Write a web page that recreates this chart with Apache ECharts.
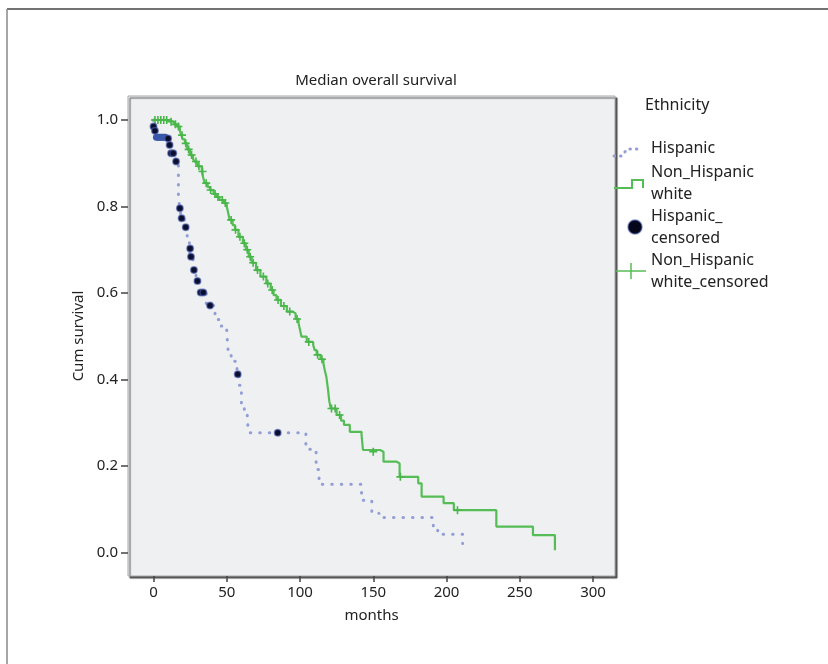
<!DOCTYPE html>
<html>
<head>
<meta charset="utf-8">
<script src="https://cdn.jsdelivr.net/npm/echarts@6/dist/echarts.min.js"></script>
<style>
  html, body { margin: 0; padding: 0; background: #fff; }
  #chart { width: 828px; height: 664px; }
</style>
</head>
<body>
<div id="chart"></div>
<script>
// tick labels
const xTicks = [0, 50, 100, 150, 200, 250, 300];
const yTicks = [0, 0.2, 0.4, 0.6, 0.8, 1.0];

// Kaplan-Meier steps: [months, survival after the step]
const hispanicSteps = [
  [0, 1.0], [0.5, 0.985], [1, 0.975], [2, 0.96], [11, 0.942], [12, 0.923],
  [15, 0.904], [17, 0.82], [18, 0.796], [19, 0.773], [21, 0.752], [23, 0.72],
  [24.5, 0.703], [25.2, 0.684], [27, 0.653], [29, 0.628], [31, 0.601],
  [36, 0.571], [42, 0.539], [46, 0.524], [50, 0.507], [51, 0.464],
  [53, 0.442], [57, 0.412], [58.5, 0.387], [60, 0.345], [62, 0.322],
  [64, 0.306], [65, 0.277], [104, 0.239], [111, 0.192], [113, 0.158],
  [142, 0.121], [149, 0.091], [154, 0.081], [191, 0.054], [194, 0.042],
  [211, 0.021]
];

const nhwSteps = [
  [0, 1.0], [11, 0.996], [14, 0.99], [16, 0.985], [18, 0.975], [19, 0.965],
  [20, 0.955], [21.5, 0.946], [23, 0.932], [25, 0.919], [27, 0.91],
  [28, 0.904], [30, 0.893], [33, 0.881], [34, 0.866], [35, 0.854],
  [37, 0.845], [38.6, 0.838], [41, 0.829], [43, 0.822], [45, 0.815],
  [48, 0.808], [50, 0.80], [51, 0.785], [52, 0.769], [54, 0.757],
  [55.6, 0.746], [58, 0.73], [61, 0.715], [63, 0.70], [65, 0.684],
  [67, 0.67], [70, 0.653], [73, 0.638], [77, 0.622], [80, 0.607],
  [82, 0.595], [84, 0.584], [87, 0.57], [91, 0.557], [95, 0.553],
  [97, 0.54], [99, 0.53], [100, 0.515], [101, 0.499], [104.6, 0.487],
  [109, 0.48], [110, 0.468], [111.4, 0.457], [114, 0.447], [116, 0.437],
  [117, 0.42], [118, 0.406], [119, 0.38], [120, 0.35], [121, 0.333],
  [125, 0.318], [128, 0.305], [130, 0.295], [134, 0.279], [142, 0.272],
  [143, 0.237], [154.6, 0.233], [157, 0.21], [166, 0.206], [168, 0.175],
  [180.7, 0.16], [183, 0.129], [198, 0.114], [205, 0.098], [234, 0.06],
  [259, 0.04], [274, 0.005]
];

// censored observations
const hispanicCensored = [
  [0, 0.985], [1, 0.975], [10, 0.957], [11, 0.942], [12, 0.923],
  [13.5, 0.923], [15.4, 0.904], [18, 0.796], [19.2, 0.773], [22, 0.752],
  [25, 0.703], [25.6, 0.684], [27.6, 0.653], [30, 0.628], [32.2, 0.601],
  [34, 0.601], [38.6, 0.571], [57.5, 0.412], [84.8, 0.277]
];
const hispanicCensoredBlock = [
  [2, 0.96], [3, 0.96], [4, 0.96], [5, 0.96], [6, 0.96], [7, 0.96], [8, 0.96]
];

const nhwCensored = [
  [1, 1.0], [3, 1.0], [5, 1.0], [7, 1.0], [9, 1.0], [12, 0.996], [15, 0.99],
  [17, 0.985], [19.5, 0.965], [22, 0.946], [24, 0.932], [26, 0.919],
  [29, 0.904], [31, 0.893], [33.5, 0.881], [36, 0.854], [39, 0.838],
  [42, 0.829], [44, 0.822], [47, 0.815], [49, 0.808], [53, 0.769],
  [56, 0.746], [59, 0.73], [62, 0.715], [64, 0.70], [66, 0.684],
  [68, 0.67], [71, 0.653], [75, 0.638], [78, 0.622], [81, 0.607],
  [85, 0.584], [89, 0.57], [93, 0.557], [98, 0.54], [106, 0.487],
  [112, 0.457], [115, 0.447], [121.5, 0.333], [124, 0.333], [127, 0.318],
  [150, 0.233], [168.5, 0.175], [207.5, 0.098]
];

const chart = echarts.init(document.getElementById('chart'));
const font = '"Noto Sans", "Open Sans", sans-serif';
const plusPath = 'path://M4,0H6V4H10V6H6V10H4V6H0V4H4Z';

chart.setOption({
  animation: false,
  backgroundColor: '#fff',
  textStyle: { fontFamily: font },
  title: {
    text: 'Median overall survival',
    left: 371, top: 68, textAlign: 'center',
    textStyle: { fontSize: 15, fontWeight: 'normal', color: '#222', fontFamily: font }
  },
  grid: {
    left: 128, right: 213, top: 96, bottom: 88,
    show: true, backgroundColor: '#eef0f2',
    borderColor: '#a8a8a8', borderWidth: 1,
    shadowColor: '#555', shadowOffsetX: 2, shadowOffsetY: 2, shadowBlur: 1
  },
  xAxis: {
    type: 'value', min: -17.4, max: 315,
    name: 'months', nameLocation: 'middle', nameGap: 32,
    nameTextStyle: { fontSize: 15, color: '#222' },
    axisLine: { show: false, onZero: false },
    axisTick: { show: true, length: 6, lineStyle: { color: '#444', width: 1.5 }, customValues: xTicks },
    axisLabel: { fontSize: 15, color: '#222', margin: 9, customValues: xTicks },
    splitLine: { show: false }
  },
  yAxis: {
    type: 'value', min: -0.0543, max: 1.0555,
    name: 'Cum survival', nameLocation: 'middle', nameGap: 42,
    nameTextStyle: { fontSize: 15, color: '#222' },
    axisLine: { show: false, onZero: false },
    axisTick: { show: true, length: 7, lineStyle: { color: '#444', width: 1.5 }, customValues: yTicks },
    axisLabel: { fontSize: 15, color: '#222', margin: 10, customValues: yTicks,
      formatter: v => v.toFixed(1) },
    splitLine: { show: false }
  },
  series: [
    {
      name: 'Hispanic', type: 'line', step: 'end', showSymbol: false,
      data: hispanicSteps,
      lineStyle: { color: '#939dd6', width: 3, type: [0.5, 9], cap: 'round' },
      z: 2
    },
    {
      name: 'Non_Hispanic white', type: 'line', step: 'end', showSymbol: false,
      data: nhwSteps,
      lineStyle: { color: '#56bd56', width: 2.2 },
      z: 2
    },
    {
      name: 'Hispanic_censored_block', type: 'scatter', symbol: 'circle', symbolSize: 7,
      data: hispanicCensoredBlock,
      itemStyle: { color: '#3a58aa', opacity: 1 },
      z: 3
    },
    {
      name: 'Hispanic_censored', type: 'scatter', symbol: 'circle', symbolSize: 6.5,
      data: hispanicCensored,
      itemStyle: { color: '#0b0e2c', borderColor: 'rgba(70,90,170,0.6)', borderWidth: 1.5, opacity: 1 },
      z: 4
    },
    {
      name: 'Non_Hispanic white_censored', type: 'scatter', symbol: plusPath, symbolSize: 8,
      data: nhwCensored,
      itemStyle: { color: '#48b648', opacity: 1 },
      z: 3
    }
  ],
  graphic: [
    // outer frame
    { type: 'line', shape: { x1: 7, y1: 9, x2: 828, y2: 9 }, style: { stroke: '#444', lineWidth: 1.5 } },
    { type: 'line', shape: { x1: 7, y1: 9, x2: 7, y2: 664 }, style: { stroke: '#888', lineWidth: 1.5 } },
    // legend
    { type: 'text', left: 645, top: 97, style: { text: 'Ethnicity', font: '16px ' + font, fill: '#222' } },
    { type: 'polyline', shape: { points: [[614, 156], [622, 156], [627, 149], [640, 149]] },
      style: { stroke: '#939dd6', lineWidth: 3, lineDash: [0.5, 6], lineCap: 'round', fill: null } },
    { type: 'text', left: 651, top: 140, style: { text: 'Hispanic', font: '16px ' + font, fill: '#222' } },
    { type: 'polyline', shape: { points: [[614, 188], [632, 188], [632, 180], [643, 180], [643, 188]] },
      style: { stroke: '#56bd56', lineWidth: 2, fill: null } },
    { type: 'text', left: 651, top: 161, style: { text: 'Non_Hispanic\nwhite', font: '16px ' + font, lineHeight: 22, fill: '#222' } },
    { type: 'circle', shape: { cx: 635, cy: 227, r: 7 },
      style: { fill: '#05061a', stroke: 'rgba(70,90,170,0.6)', lineWidth: 1.5 } },
    { type: 'text', left: 651, top: 205, style: { text: 'Hispanic_\ncensored', font: '16px ' + font, lineHeight: 22, fill: '#222' } },
    { type: 'line', shape: { x1: 616, y1: 271, x2: 646, y2: 271 }, style: { stroke: '#56bd56', lineWidth: 1.5 } },
    { type: 'line', shape: { x1: 631, y1: 263, x2: 631, y2: 279 }, style: { stroke: '#56bd56', lineWidth: 1.5 } },
    { type: 'text', left: 651, top: 249, style: { text: 'Non_Hispanic\nwhite_censored', font: '16px ' + font, lineHeight: 22, fill: '#222' } }
  ]
});
</script>
</body>
</html>
